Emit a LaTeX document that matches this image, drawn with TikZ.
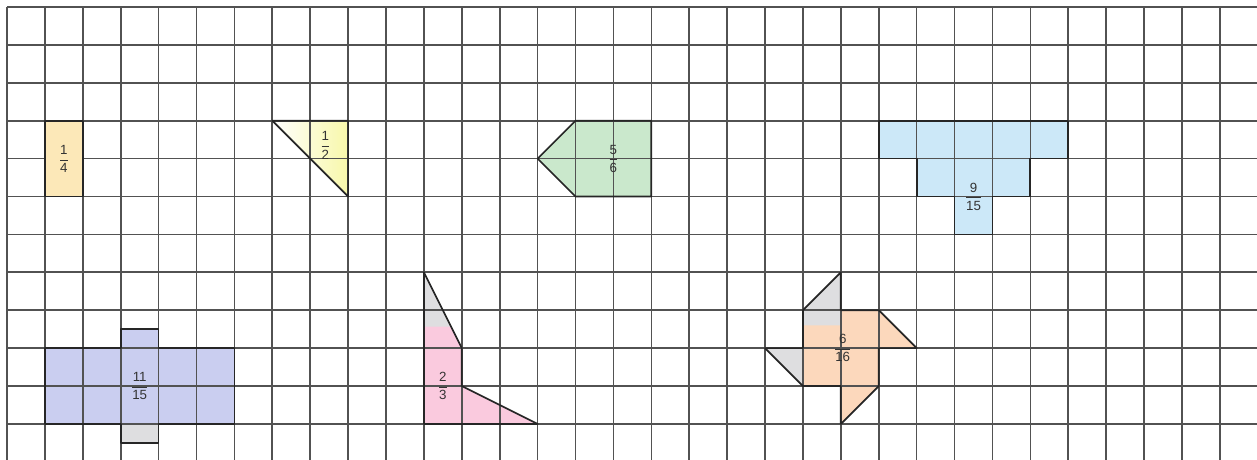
\documentclass[tikz,border=0pt]{standalone}
\usepackage{fontspec}
\setmainfont{Liberation Sans}
\usepackage{tikz}
\definecolor{quartercol}{RGB}{252,232,184}
\definecolor{halfcol}{RGB}{248,248,170}
\definecolor{greencol}{RGB}{202,232,204}
\definecolor{bluecol}{RGB}{204,232,248}
\definecolor{lavcol}{RGB}{202,206,240}
\definecolor{pinkcol}{RGB}{250,202,222}
\definecolor{orangecol}{RGB}{252,216,188}
\definecolor{greycol}{RGB}{222,222,224}
\newcommand{\fr}[2]{$\displaystyle\frac{\hbox{#1}}{\hbox{#2}}$}

\begin{document}
\begin{tikzpicture}[gridline/.style={line width=1.25pt, black!68},
    outline/.style={line width=1.3pt, black!85, line join=round},
    fraclabel/.style={font=\fontsize{10}{11}\selectfont, text=black!80, inner sep=0pt}]
		%%%%% START %%%%%
		\useasboundingbox (-0.185, 0.185) rectangle (32.98, -11.95);
		
		% fills under the grid
		\shade[left color=white, right color=halfcol] (7, -3) -- (9, -3) -- (9, -5) -- cycle;
		\fill[greencol] (14, -4) -- (15, -3) -- (17, -3) -- (17, -5) -- (15, -5) -- cycle;
		\fill[bluecol] (23, -3) -- (28, -3) -- (28, -4) -- (27, -4) -- (27, -5) -- (26, -5) -- (26, -6) -- (25, -6) -- (25, -5) -- (24, -5) -- (24, -4) -- (23, -4) -- cycle;
		\fill[lavcol] (1, -9) -- (3, -9) -- (3, -8.5) -- (4, -8.5) -- (4, -9) -- (6, -9) -- (6, -11) -- (1, -11) -- cycle;
		\fill[greycol] (3, -11) rectangle (4, -11.5);
		\fill[pinkcol] (11, -7) -- (12, -9) -- (12, -10) -- (14, -11) -- (11, -11) -- cycle;
		\fill[greycol] (11, -7) -- (11.72, -8.43) -- (11, -8.43) -- cycle;
		\fill[orangecol] (21, -8) -- (22, -7) -- (22, -8) -- (23, -8) -- (24, -9) -- (23, -9) -- (23, -10) -- (22, -11) -- (22, -10) -- (21, -10) -- (20, -9) -- (21, -9) -- cycle;
		\fill[greycol] (21, -8) -- (22, -7) -- (22, -8.4) -- (21, -8.4) -- cycle;
		\fill[greycol] (20, -9) -- (21, -9) -- (21, -10) -- cycle;
		
		% grid
		\foreach \x in {0,...,32}
			\draw[gridline] (\x, 0) -- (\x, -11.95);
		\foreach \y in {0,...,11}
			\draw[gridline] (0, -\y) -- (32.98, -\y);
		
		\fill[quartercol] (1, -3) rectangle (2, -5);
		
		% outlines
		\draw[outline] (1, -3) rectangle (2, -5);
		\draw[outline] (7, -3) -- (9, -3) -- (9, -5) -- cycle;
		\draw[outline] (14, -4) -- (15, -3) -- (17, -3) -- (17, -5) -- (15, -5) -- cycle;
		\draw[outline] (23, -3) -- (28, -3) -- (28, -4) -- (27, -4) -- (27, -5) -- (26, -5) -- (26, -6) -- (25, -6) -- (25, -5) -- (24, -5) -- (24, -4) -- (23, -4) -- cycle;
		\draw[outline] (1, -9) -- (3, -9) -- (3, -8.5) -- (4, -8.5) -- (4, -9) -- (6, -9) -- (6, -11) -- (4, -11) -- (4, -11.5) -- (3, -11.5) -- (3, -11) -- (1, -11) -- cycle;
		\draw[outline] (11, -7) -- (12, -9) -- (12, -10) -- (14, -11) -- (11, -11) -- cycle;
		\draw[outline] (21, -8) -- (22, -7) -- (22, -8) -- (23, -8) -- (24, -9) -- (23, -9) -- (23, -10) -- (22, -11) -- (22, -10) -- (21, -10) -- (20, -9) -- (21, -9) -- cycle;
		
		% labels
		\node[fraclabel] (quarter) at (1.5, -4) {\fr{1}{4}};
		\node[fraclabel] (half) at (8.4, -3.65) {\fr{1}{2}};
		\node[fraclabel] (fivesixths) at (16, -4) {\fr{5}{6}};
		\node[fraclabel] (ninefifteenths) at (25.5, -5) {\fr{9}{15}};
		\node[fraclabel] (elevenfifteenths) at (3.5, -10) {\fr{11}{15}};
		\node[fraclabel] (twothirds) at (11.5, -10) {\fr{2}{3}};
		\node[fraclabel] (sixsixteenths) at (22.05, -9) {\fr{6}{16}};
		%%%%% END %%%%%
	\end{tikzpicture}
\end{document}
